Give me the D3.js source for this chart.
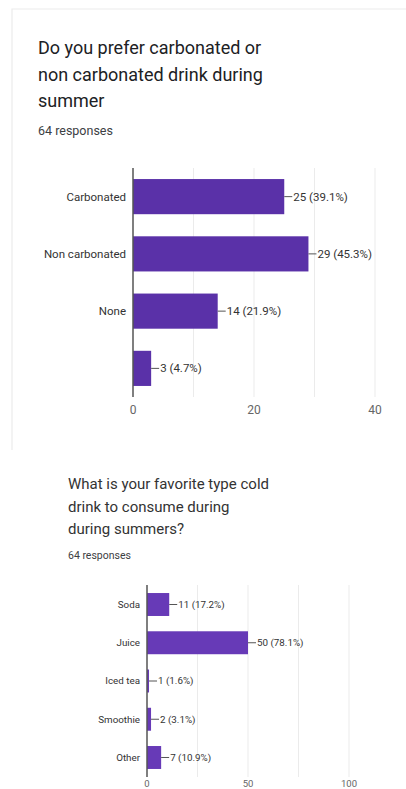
<!DOCTYPE html>
<html>
<head>
<meta charset="utf-8">
<script src="https://cdn.jsdelivr.net/npm/d3@7"></script>
<style>
  body { margin: 0; background: #fff; }
  svg { display: block; font-family: Roboto, "Noto Sans", Arial, sans-serif; }
</style>
</head>
<body>
<script>
// first question
const title1 = ["Do you prefer carbonated or", "non carbonated drink during", "summer"];
const cats1 = ["Carbonated", "Non carbonated", "None", ""];
const counts1 = [25, 29, 14, 3];
const pcts1 = ["39.1%", "45.3%", "21.9%", "4.7%"];
const ticks1 = [0, 20, 40];
const grid1 = [10, 20, 30, 40];

// second question
const title2 = ["What is your favorite type cold", "drink to consume during", "during summers?"];
const cats2 = ["Soda", "Juice", "Iced tea", "Smoothie", "Other"];
const counts2 = [11, 50, 1, 2, 7];
const pcts2 = ["17.2%", "78.1%", "1.6%", "3.1%", "10.9%"];
const ticks2 = [0, 50, 100];
const grid2 = [25, 50, 75, 100];

const responses = "64 responses";

const svg = d3.select("body").append("svg")
  .attr("width", 406).attr("height", 789);

// faint card edge
svg.append("path")
  .attr("d", "M12,450 L12,9 L406,9")
  .attr("fill", "none")
  .attr("stroke", "#ececec")
  .attr("stroke-width", 1.2);

function drawChart(o) {
  const g = svg.append("g");

  g.selectAll(".title").data(o.title).enter().append("text")
    .attr("x", o.titleX)
    .attr("y", (d, i) => o.titleY + i * o.titleStep)
    .attr("font-size", o.titleSize)
    .attr("fill", o.titleColor)
    .text(d => d);

  g.append("text")
    .attr("x", o.titleX)
    .attr("y", o.respY)
    .attr("font-size", o.respSize)
    .attr("fill", "#3c4043")
    .text(responses);

  const x = d3.scaleLinear().domain([0, o.max]).range([o.x0, o.x1]);
  const y = d3.scaleBand().domain(o.cats).range([o.y0, o.y1])
    .paddingInner(o.padIn).paddingOuter(o.padOut);

  // grid
  g.selectAll(".grid").data(o.grid).enter().append("line")
    .attr("x1", d => x(d)).attr("x2", d => x(d))
    .attr("y1", o.y0).attr("y2", o.y1)
    .attr("stroke", "#ebebeb").attr("stroke-width", 1);

  // bars
  g.selectAll(".bar").data(o.counts).enter().append("rect")
    .attr("x", x(0))
    .attr("y", (d, i) => y(o.cats[i]))
    .attr("width", d => x(d) - x(0))
    .attr("height", y.bandwidth())
    .attr("fill", o.color);

  // leader lines + value labels
  g.selectAll(".lead").data(o.counts).enter().append("line")
    .attr("x1", d => x(d)).attr("x2", d => x(d) + o.lead)
    .attr("y1", (d, i) => y(o.cats[i]) + y.bandwidth() / 2)
    .attr("y2", (d, i) => y(o.cats[i]) + y.bandwidth() / 2)
    .attr("stroke", "#555").attr("stroke-width", 1);

  g.selectAll(".val").data(o.counts).enter().append("text")
    .attr("x", d => x(d) + o.lead + 1)
    .attr("y", (d, i) => y(o.cats[i]) + y.bandwidth() / 2)
    .attr("dy", "0.35em")
    .attr("font-size", o.labelSize)
    .attr("fill", "#333")
    .text((d, i) => d + " (" + o.pcts[i] + ")");

  // category labels
  g.selectAll(".cat").data(o.cats).enter().append("text")
    .attr("x", o.x0 - 7)
    .attr("y", d => y(d) + y.bandwidth() / 2)
    .attr("dy", "0.35em")
    .attr("text-anchor", "end")
    .attr("font-size", o.labelSize)
    .attr("fill", "#333")
    .text(d => d);

  // baseline axis
  g.append("line")
    .attr("x1", x(0)).attr("x2", x(0))
    .attr("y1", o.y0).attr("y2", o.y1)
    .attr("stroke", "#555").attr("stroke-width", 1.5);

  g.selectAll(".tick").data(o.ticks).enter().append("text")
    .attr("x", d => x(d))
    .attr("y", o.tickY)
    .attr("text-anchor", "middle")
    .attr("font-size", o.tickSize)
    .attr("fill", "#666")
    .text(d => d);
}

drawChart({
  title: title1, titleX: 38, titleY: 54, titleStep: 26.5, titleSize: 18, titleColor: "#202124",
  respY: 135, respSize: 12.5,
  cats: cats1, counts: counts1, pcts: pcts1, ticks: ticks1, grid: grid1,
  max: 40, x0: 133, x1: 375, y0: 168, y1: 397, padIn: 0.386, padOut: 0.193,
  color: "#5a31a8", lead: 8, labelSize: 11.5, tickY: 414, tickSize: 12
});

drawChart({
  title: title2, titleX: 68, titleY: 489, titleStep: 22.5, titleSize: 15, titleColor: "#333",
  respY: 559, respSize: 10.5,
  cats: cats2, counts: counts2, pcts: pcts2, ticks: ticks2, grid: grid2,
  max: 100, x0: 147, x1: 349, y0: 585, y1: 777, padIn: 0.4, padOut: 0.21,
  color: "#673ab7", lead: 8, labelSize: 9.8, tickY: 787, tickSize: 9.5
});
</script>
</body>
</html>
